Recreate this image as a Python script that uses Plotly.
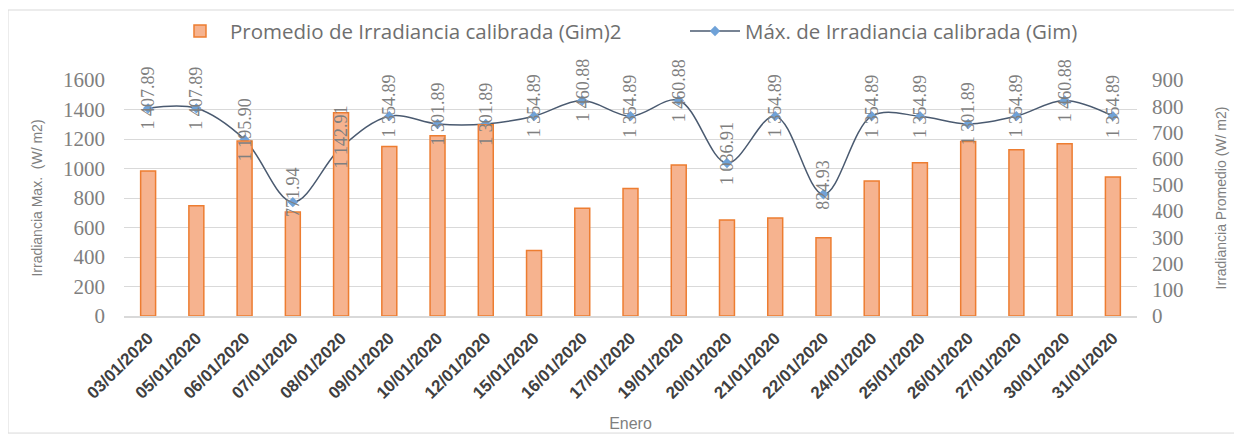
import plotly.graph_objects as go

fechas = ["03/01/2020", "05/01/2020", "06/01/2020", "07/01/2020", "08/01/2020",
          "09/01/2020", "10/01/2020", "12/01/2020", "15/01/2020", "16/01/2020",
          "17/01/2020", "19/01/2020", "20/01/2020", "21/01/2020", "22/01/2020",
          "24/01/2020", "25/01/2020", "26/01/2020", "27/01/2020", "30/01/2020",
          "31/01/2020"]

promedio = [553, 420, 667, 397, 775, 646, 687, 729, 250, 411, 486, 576,
            366, 374, 298, 515, 584, 665, 634, 657, 530]

maximo = [1407.89, 1407.89, 1195.90, 771.94, 1142.91, 1354.89, 1301.89, 1301.89,
          1354.89, 1460.88, 1354.89, 1460.88, 1036.91, 1354.89, 824.93, 1354.89,
          1354.89, 1301.89, 1354.89, 1460.88, 1354.89]

left_ticks = [0, 200, 400, 600, 800, 1000, 1200, 1400, 1600]
right_ticks = [0, 100, 200, 300, 400, 500, 600, 700, 800, 900]


def fmt(v):
    s = f"{v:.2f}"
    ip, dp = s.split(".")
    if len(ip) > 3:
        ip = ip[:-3] + " " + ip[-3:]
    return ip + "." + dp


GRAY = "#7f7f7f"
SERIF = "Liberation Serif, Times New Roman, serif"
fig = go.Figure()

fig.add_trace(go.Bar(
    x=fechas, y=promedio, name="Promedio de Irradiancia calibrada (Gim)2",
    yaxis="y2", width=0.31, legend="legend",
    marker=dict(color="#F6B38F", line=dict(color="#ED7D31", width=1.5)),
))

fig.add_trace(go.Scatter(
    x=fechas, y=maximo, name="Máx. de Irradiancia calibrada (Gim)",
    mode="lines+markers", line=dict(color="#4A5A70", width=1.5, shape="spline"),
    marker=dict(symbol="diamond", size=8, color="#6FA2D8"), legend="legend2",
))

for f, v in zip(fechas, maximo):
    fig.add_annotation(
        x=f, y=v, xref="x", yref="y", text=fmt(v), textangle=-90,
        showarrow=False, xanchor="center", yanchor="middle", yshift=10,
        font=dict(family=SERIF, size=18, color=GRAY),
    )

fig.add_shape(type="rect", xref="paper", yref="paper",
              x0=-0.1145, x1=1.1027, y0=-0.496, y1=1.2966,
              line=dict(color="#D9D9D9", width=1), layer="below")

legend_font = dict(family="Open Sans", size=20.5, color="#6f6f6f")

fig.update_layout(
    width=1234, height=427,
    margin=dict(l=116, r=105, t=72, b=119, autoexpand=False),
    paper_bgcolor="white", plot_bgcolor="white",
    font=dict(family="Liberation Sans", color="#595959"),
    showlegend=True,
    legend=dict(orientation="h", x=0.0454, xanchor="left", y=1.207, yanchor="middle",
                font=legend_font, itemwidth=50),
    legend2=dict(orientation="h", x=0.5538, xanchor="left", y=1.207, yanchor="middle",
                 font=legend_font, itemwidth=50),
    xaxis=dict(
        type="category", tickangle=-45, showgrid=False, range=[-0.5, 20.5],
        showline=True, linecolor="#D9D9D9", linewidth=1.5,
        tickfont=dict(family="Liberation Sans", size=17, color="#404040", weight="bold"),
        ticklabelstandoff=4,
        title=dict(text="Enero", font=dict(size=16, color=GRAY), standoff=16),
    ),
    yaxis=dict(
        range=[0, 1600], tickvals=left_ticks, showgrid=True, gridcolor="#D9D9D9",
        gridwidth=1, zeroline=False,
        tickfont=dict(family=SERIF, size=21, color=GRAY),
        ticklabelstandoff=18,
        title=dict(text="Irradiancia Max.  (W/ m2)", font=dict(size=14, color=GRAY),
                   standoff=17),
    ),
    yaxis2=dict(
        range=[0, 900], tickvals=right_ticks, overlaying="y", side="right",
        showgrid=False, zeroline=False,
        tickfont=dict(family=SERIF, size=21, color=GRAY),
        ticklabelstandoff=14,
        title=dict(text="Irradiancia Promedio (W/ m2)", font=dict(size=14, color=GRAY),
                   standoff=33),
    ),
)

fig.write_html("out.html")
